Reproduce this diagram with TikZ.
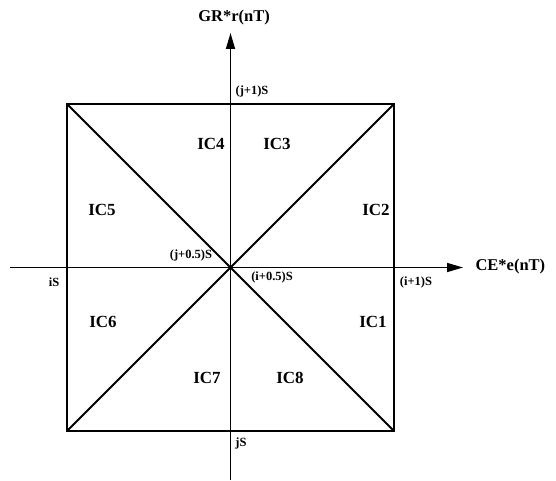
\documentclass[tikz,border=0pt]{standalone}
\usepackage{fontspec}
\setmainfont{Liberation Serif}
\usetikzlibrary{arrows.meta}
\tikzset{
    region/.style={font=\fontsize{17}{17}\selectfont\bfseries},
    axislabel/.style={font=\fontsize{16.5}{16.5}\selectfont\bfseries},
    tick/.style={font=\fontsize{12.5}{12.5}\selectfont\bfseries, inner sep=0pt},
    axis/.style={line width=1.6pt, -{Triangle[length=16pt,width=9pt]}}
}
\begin{document}
\begin{tikzpicture}[x=1pt,y=1pt]
    \useasboundingbox (0,0) rectangle (556,480);
    % square and its corners
    \coordinate (BL) at (67,49);
    \coordinate (BR) at (394,49);
    \coordinate (TR) at (394,376);
    \coordinate (TL) at (67,376);
    \coordinate (O) at (230.5,212.5);
    \draw[line width=1.9pt] (BL) -- (BR) -- (TR) -- (TL) -- cycle;
    \draw[line width=1.9pt] (TL) -- (BR) (BL) -- (TR);
    % axes
    \coordinate (xs) at (10,212.5);
    \coordinate (ys) at (230.5,0);
    \node[axislabel, anchor=west] (xl) at (472,213) {CE*e(nT)};
    \node[axislabel] (yl) at (234,462) {GR*r(nT)};
    \coordinate (xe) at (463,212.5);
    \coordinate (ye) at (230.5,447);
    \draw[axis] (xs) -- (xe);
    \draw[axis] (ys) -- (ye);
    % tick labels
    \node[tick] (j1) at (252,389) {(j+1)S};
    \node[tick] (jh) at (191,225) {(j+0.5)S};
    \node[tick] (ih) at (272,203) {(i+0.5)S};
    \node[tick] (i1) at (416,198) {(i+1)S};
    \node[tick] (i0) at (54,198) {iS};
    \node[tick] (j0) at (241,37) {jS};
    % regions
    \node[region] (ic4) at (211,336) {IC4};
    \node[region] (ic3) at (277,336) {IC3};
    \node[region] (ic5) at (102,270) {IC5};
    \node[region] (ic2) at (376,270) {IC2};
    \node[region] (ic6) at (103,158) {IC6};
    \node[region] (ic1) at (373,158) {IC1};
    \node[region] (ic7) at (207,102) {IC7};
    \node[region] (ic8) at (290,102) {IC8};
\end{tikzpicture}
\end{document}
